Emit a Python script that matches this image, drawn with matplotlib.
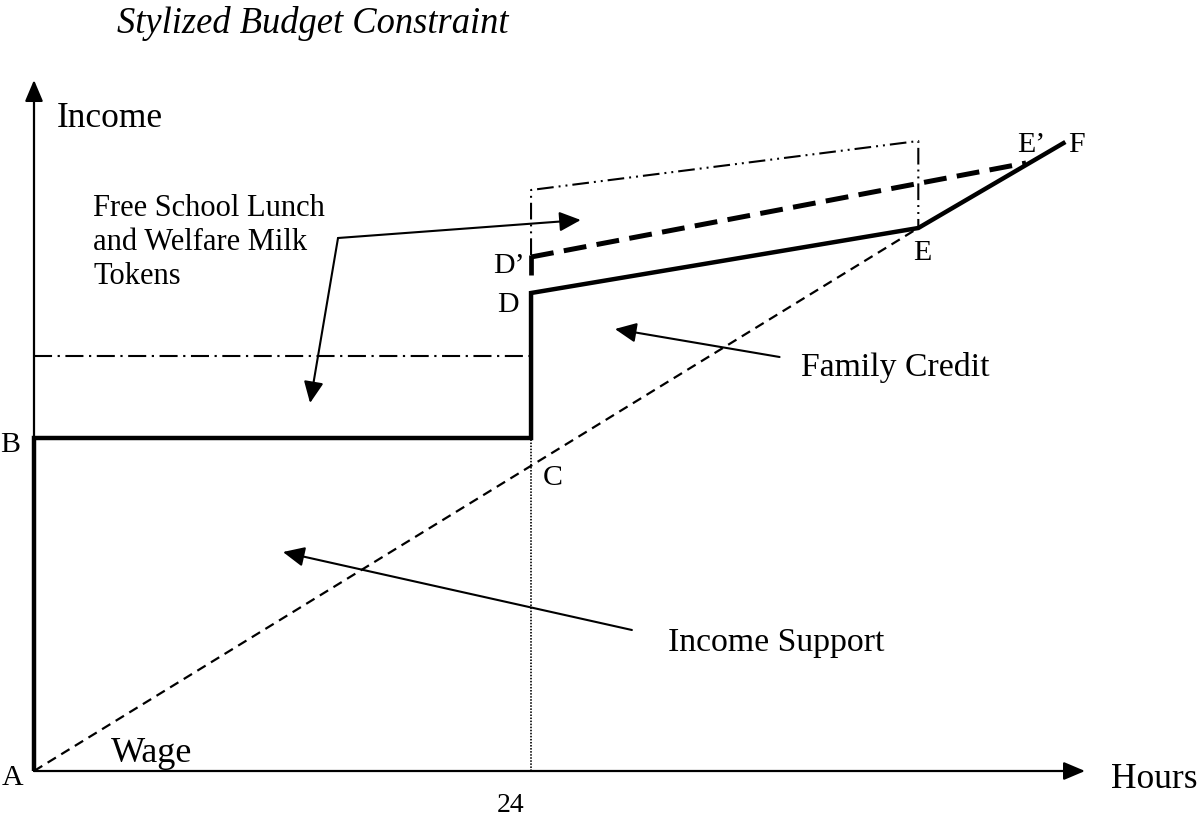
import matplotlib
matplotlib.use("Agg")
import matplotlib.pyplot as plt

plt.rcParams['font.family'] = ['Liberation Serif', 'DejaVu Serif']
plt.rcParams['lines.scale_dashes'] = False

# ---------------- data (hours, income in arbitrary units) ----------------
title = "Stylized Budget Constraint"
x_label = "Hours"
y_label = "Income"
wage_label = "Wage"
threshold_hours = 24
threshold_label = "24"

axis_x_max = 50.75
axis_y_max = 69.1

# budget constraint A - B - (24,B) - D - E - F
bc_hours = [0, 0, 24, 24, 42.7, 49.8]
bc_income = [0, 33.3, 33.3, 47.8, 54.3, 62.9]

# wage line A -> E
wage_hours = [0, 42.7]
wage_income = [0, 54.3]

# Family credit incl. free school lunch / milk tokens: D' -> E'
fc2_hours = [24, 47.9]
fc2_income = [51.4, 60.8]
dprime_hours = [24, 24]
dprime_income = [49.6, 51.6]

# upper dash-dot-dot envelope
upper_hours = [24, 24, 42.7, 42.7]
upper_income = [51.6, 58.1, 63.0, 54.3]

# income support + tokens level
tokens_hours = [0, 24]
tokens_income = [41.5, 41.5]

# dotted hours-threshold line (from axis up to B level)
thr_hours = [24, 24]
thr_income = [0, 33.3]

# point labels
point_names = ["A", "B", "C", "D", "D\u2019", "E", "E\u2019", "F"]

# annotation arrows: (tail, tip)
lunch_kink = (14.68, 53.3)
lunch_tips = [(26.4, 55.1), (13.33, 36.8)]
fc_arrow = ((36.0, 41.4), (28.05, 44.2))
is_arrow = ((28.87, 14.1), (12.02, 21.9))

# ---------------- figure ----------------
W, H = 1200, 818
fig = plt.figure(figsize=(W / 100, H / 100), dpi=100)
ax = fig.add_axes([0, 0, 1, 1])
ax.set_xlim(-34 / 20.71, (W - 34) / 20.71)
ax.set_ylim((771 - H) / 10, 771 / 10)
ax.axis('off')

def P(x, y):
    return (x / W, 1 - y / H)

K = 'black'
# axes with arrows
head = '-|>,head_length=1.3,head_width=0.55'
ax.annotate('', xy=(axis_x_max, 0), xytext=(0, 0),
            arrowprops=dict(arrowstyle=head, lw=1.6, color=K, shrinkA=0, shrinkB=0))
ax.annotate('', xy=(0, axis_y_max), xytext=(0, 0),
            arrowprops=dict(arrowstyle=head, lw=1.6, color=K, shrinkA=0, shrinkB=0))

# threshold dotted line
ax.plot(thr_hours, thr_income, color=K, lw=1.2, linestyle=(0, (1.1, 1.1)))
# wage line
ax.plot(wage_hours, wage_income, color=K, lw=1.6, linestyle=(0, (7, 4.5)))
# tokens level
ax.plot(tokens_hours, tokens_income, color=K, lw=1.5,
        linestyle=(0, (13, 4, 1.6, 4)))
# upper envelope
ax.plot(upper_hours, upper_income, color=K, lw=1.5,
        linestyle=(0, (12, 3.6, 1.4, 3.6, 1.4, 3.6)))
# D' -> E' thick dashed
ax.plot(fc2_hours, fc2_income, color=K, lw=3.6, linestyle=(0, (16.5, 7.5)))
ax.plot(dprime_hours, dprime_income, color=K, lw=3.4, solid_capstyle='butt')
# budget constraint
ax.plot(bc_hours, bc_income, color=K, lw=3.2, solid_joinstyle='miter',
        solid_capstyle='butt')

# annotation arrows
ahead = '-|>,head_length=1.3,head_width=0.6'
for tip in lunch_tips:
    ax.annotate('', xy=tip, xytext=lunch_kink,
                arrowprops=dict(arrowstyle=ahead, lw=1.5, color=K, shrinkA=0, shrinkB=0))
for tail, tip in [fc_arrow, is_arrow]:
    ax.annotate('', xy=tip, xytext=tail,
                arrowprops=dict(arrowstyle=ahead, lw=1.5, color=K, shrinkA=0, shrinkB=0))

# ---------------- text ----------------
fig.text(*P(117, 33), title, fontsize=26.3, fontstyle='italic', va='baseline', ha='left')
fig.text(*P(57, 127), y_label, fontsize=25.5, va='baseline', ha='left')
fig.text(*P(1111, 788), x_label, fontsize=25.5, va='baseline', ha='left')
fig.text(*P(111, 762), wage_label, fontsize=26, va='baseline', ha='left')
fig.text(*P(511, 812), threshold_label, fontsize=20, va='baseline', ha='center')

label_pos = [(2, 785), (0, 452), (543, 485), (497, 312), (493, 273),
             (913, 260), (1017, 152), (1068, 152)]
for name, (lx, ly) in zip(point_names, label_pos):
    fig.text(*P(lx, ly), name, fontsize=21.5, va='baseline', ha='left')

fig.text(*P(93, 216), "Free School Lunch", fontsize=22, va='baseline', ha='left')
fig.text(*P(93, 250), "and Welfare Milk", fontsize=22, va='baseline', ha='left')
fig.text(*P(93, 284), "Tokens", fontsize=22, va='baseline', ha='left')
fig.text(*P(801, 376), "Family Credit", fontsize=24.3, va='baseline', ha='left')
fig.text(*P(668, 651), "Income Support", fontsize=24.3, va='baseline', ha='left')

fig.savefig("out.png", dpi=100)
